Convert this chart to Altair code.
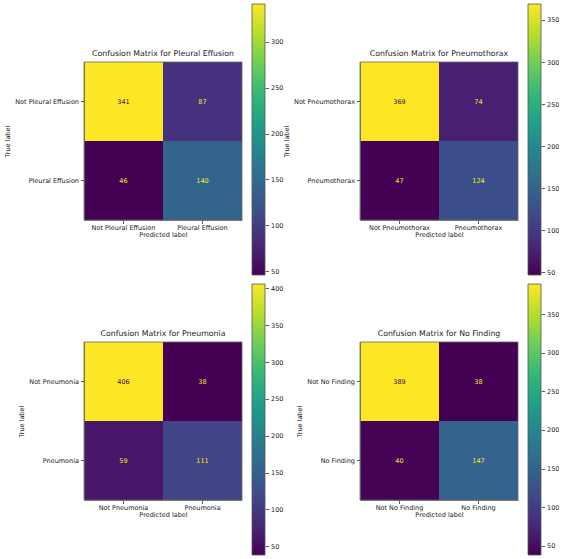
import altair as alt
import pandas as pd

FONT = "DejaVu Sans"

# Conditions and their 2x2 confusion matrices
# rows = true label (Not X, X), columns = predicted label (Not X, X)
CONDITIONS = ["Pleural Effusion", "Pneumothorax", "Pneumonia", "No Finding"]
PLEURAL_EFFUSION = [[341, 87], [46, 140]]
PNEUMOTHORAX = [[369, 74], [47, 124]]
PNEUMONIA = [[406, 38], [59, 111]]
NO_FINDING = [[389, 38], [40, 147]]
MATRICES = [PLEURAL_EFFUSION, PNEUMOTHORAX, PNEUMONIA, NO_FINDING]

# colorbar tick values per panel
CB_TICKS = [
    [50, 100, 150, 200, 250, 300],
    [50, 100, 150, 200, 250, 300, 350],
    [50, 100, 150, 200, 250, 300, 350, 400],
    [50, 100, 150, 200, 250, 300, 350],
]

# matplotlib viridis, evenly spaced stops
VIRIDIS = ["#440154", "#482878", "#3e4a89", "#31688e", "#26828e",
           "#1f9e89", "#35b779", "#6dcd59", "#b4de2c", "#fde725"]

PANEL_W, PANEL_H = 181, 271
MAT_RANGE_X = [0, 158]
MAT_RANGE_Y = [58, 216]
CB_RANGE_X = [168, 181]


def panel(name, matrix, ticks):
    labels = [f"Not {name}", name]
    rows = []
    for i, t in enumerate(labels):
        for j, p in enumerate(labels):
            rows.append({"true": t, "pred": p, "count": matrix[i][j]})
    df = pd.DataFrame(rows)
    lo, hi = int(df["count"].min()), int(df["count"].max())
    thresh = (lo + hi) / 2.0

    x = alt.X(
        "pred:N", sort=labels, title="Predicted label",
        scale=alt.Scale(domain=labels, range=MAT_RANGE_X, paddingInner=0, paddingOuter=0),
        axis=alt.Axis(offset=-(PANEL_H - MAT_RANGE_Y[1]), labelAngle=0, grid=False,
                      domainColor="#666", domainWidth=0.8, tickColor="#333", tickWidth=0.8,
                      tickSize=3.5, labelPadding=1, titlePadding=0),
    )
    y = alt.Y(
        "true:N", sort=labels, title="True label",
        scale=alt.Scale(domain=labels, range=MAT_RANGE_Y, paddingInner=0, paddingOuter=0),
        axis=alt.Axis(grid=False, domainColor="#666", domainWidth=0.8, tickColor="#333",
                      tickWidth=0.8, tickSize=3.5, labelPadding=2, titlePadding=4),
    )

    cells = alt.Chart(df).mark_rect().encode(
        x=x, y=y,
        color=alt.Color("count:Q", legend=None,
                        scale=alt.Scale(scheme="viridis", domain=[lo, hi], nice=False, zero=False)),
    )
    numbers = alt.Chart(df).mark_text(font=FONT, fontSize=6.5).encode(
        x=x, y=y,
        text="count:Q",
        color=alt.condition(f"datum.count < {thresh}", alt.value(VIRIDIS[-1]), alt.value(VIRIDIS[0])),
    )
    # outline of the matrix, from the first band's start to the last band's end
    frame_df = pd.DataFrame([{"x0": labels[0], "x1": labels[1], "y0": labels[0], "y1": labels[1]}])
    frame = alt.Chart(frame_df).mark_rect(filled=False, stroke="#666", strokeWidth=0.8).encode(
        x=alt.X("x0:N", bandPosition=0), x2=alt.X2("x1", bandPosition=1),
        y=alt.Y("y0:N", bandPosition=0), y2=alt.Y2("y1", bandPosition=1),
    )
    matrix_layer = alt.layer(cells, numbers, frame)

    cb_df = pd.DataFrame([{"bar": "cb", "lo": lo, "hi": hi}])
    colorbar = alt.Chart(cb_df).mark_rect(
        fill=alt.Gradient(
            gradient="linear", x1=0, x2=0, y1=1, y2=0,
            stops=[alt.GradientStop(color=c, offset=k / (len(VIRIDIS) - 1)) for k, c in enumerate(VIRIDIS)],
        ),
        stroke="#555", strokeWidth=0.8,
    ).encode(
        x=alt.X("bar:N", axis=None,
                scale=alt.Scale(range=CB_RANGE_X, paddingInner=0, paddingOuter=0)),
        y=alt.Y("lo:Q", scale=alt.Scale(domain=[lo, hi], nice=False, zero=False),
                axis=alt.Axis(orient="right", values=ticks, title=None, grid=False, domain=False,
                              tickColor="#333", tickWidth=0.8, tickSize=3.5, labelPadding=2,
                              labelFlush=False)),
        y2="hi:Q",
    )

    return alt.layer(matrix_layer, colorbar).resolve_scale(
        x="independent", y="independent", color="independent"
    ).properties(
        width=PANEL_W, height=PANEL_H,
        title=alt.TitleParams(f"Confusion Matrix for {name}", font=FONT, fontSize=7.8,
                              fontWeight="normal", color="#222", anchor="middle", frame="group",
                              offset=0, baseline="alphabetic", dx=-11.5, dy=60),
    )


panels = [panel(n, m, t) for n, m, t in zip(CONDITIONS, MATRICES, CB_TICKS)]

chart = alt.concat(
    *panels, columns=2, spacing={"row": 9, "column": 95}, bounds="flush"
).properties(
    padding={"left": 4, "top": 3, "right": 0, "bottom": 0},
    background="white",
).configure_view(stroke=None).configure_axis(
    labelFont=FONT, labelFontSize=6.5, labelColor="#222",
    titleFont=FONT, titleFontSize=6.5, titleFontWeight="normal", titleColor="#222",
)

chart.save("out.html", embed_options={"renderer": "svg", "actions": False})
